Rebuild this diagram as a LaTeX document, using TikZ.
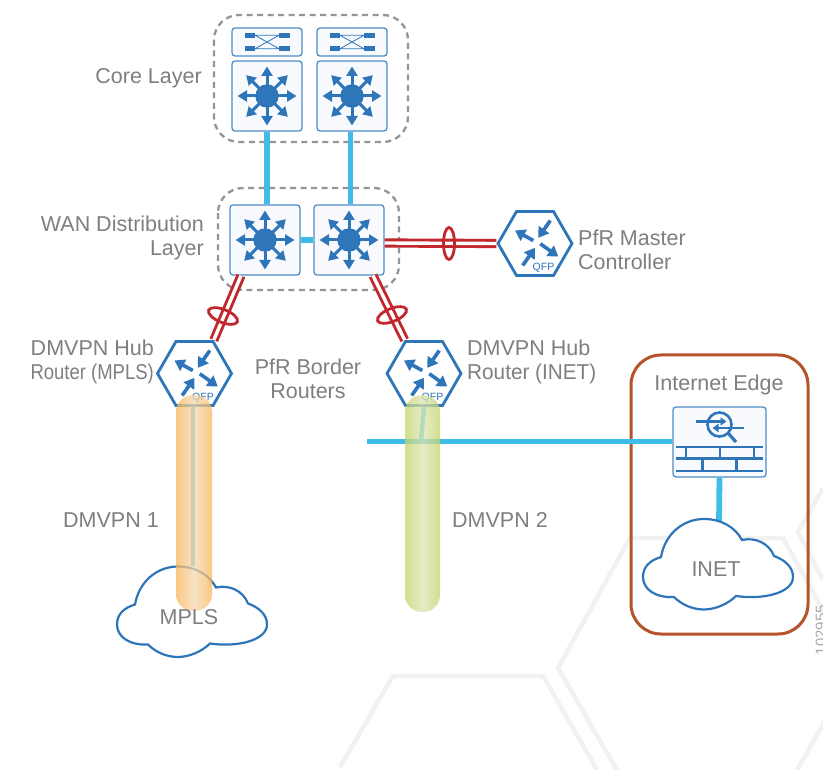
\documentclass[tikz,border=0pt]{standalone}
\usepackage{fontspec}
\setmainfont{Liberation Sans}
\usetikzlibrary{arrows.meta,shapes.geometric}
\definecolor{iconblue}{HTML}{2E75BA}
\definecolor{linkblue}{HTML}{3FBDE8}
\definecolor{linkred}{HTML}{C1272D}
\definecolor{edgebrown}{HTML}{B5532A}
\definecolor{boxfill}{HTML}{F8FAFD}
\definecolor{boxline}{HTML}{4F8CC8}
\definecolor{labelgray}{HTML}{7F7F7F}
\definecolor{dashgray}{HTML}{959595}
\definecolor{hexgray}{HTML}{F1F1F1}
\definecolor{orangeside}{HTML}{FAB65A}
\definecolor{orangemid}{HTML}{F6D9B0}
\definecolor{greenside}{HTML}{C4D468}
\definecolor{greenmid}{HTML}{DFE5B5}
\tikzset{
  devbox/.style={draw=boxline,fill=boxfill,line width=1.3,rounded corners=3,inner sep=0},
  hexrouter/.style={regular polygon,regular polygon sides=6,draw=iconblue,fill=white,
                    line width=2.8,minimum size=74,inner sep=0},
  grouplayer/.style={draw=dashgray,line width=2.3,dash pattern=on 6 off 4.5,rounded corners=25},
  bluelink/.style={draw=linkblue,line width=5.8},
  redlink/.style={draw=linkred,line width=2.9,double=white,double distance=3.4},
  redring/.style={draw=linkred,line width=2.8},
  hexline/.style={draw=hexgray,line width=4.5},
  lbl/.style={text=labelgray,font=\fontsize{21.5}{24}\selectfont,inner sep=0},
  bgrid/.style={draw=iconblue,line width=2.6},
  pics/mlsicon/.style={code={
    \fill[iconblue] (0,0) circle (11.7);
    \foreach \ang in {0,45,...,315}
      \draw[iconblue,line width=3,-{Triangle[length=9.5,width=11]}] (0,0) -- (\ang:29.5);
  }},
  pics/swicon/.style={code={
    \foreach \xs in {-1,1}
      \foreach \ys in {-1,1}
        \fill[iconblue] (\xs*12,\ys*4) rectangle (\xs*22.5,\ys*9.4);
    \draw[iconblue,line width=.8] (-12,-6.7) -- (12,-6.7) (-12,6.7) -- (12,6.7)
      (-12,-6.7) -- (12,6.7) (-12,6.7) -- (12,-6.7);
  }},
  pics/rticon/.style={code={
    \tikzset{every path/.style={draw=iconblue,line width=3.6,-{Triangle[length=10,width=12.5]}}}
    \path (-1.7,-3) -- (-20,-13);
    \path (15.3,-23) -- (3.3,-5.7);
    \path (5.3,.3) -- (23.3,13);
    \path (-12.3,22) -- (0,4.3);
    \node[text=iconblue,font=\fontsize{10.5}{12}\selectfont,inner sep=0] (qfp) at (8.5,24) {QFP};
  }},
  pics/fwicon/.style={code={
    \draw[iconblue,line width=2.6] (0,-17.5) circle (12);
    \draw[iconblue,line width=3.2] (8.5,-9) -- (16.5,0);
    \draw[iconblue,line width=2.2,-{Triangle[length=6,width=8]}] (-24,-20.5) -- (7,-20.5);
    \draw[iconblue,line width=2.2,-{Triangle[length=6,width=8]}] (24.5,-14) -- (-7,-14);
    \foreach \yy in {5,16.7,29}
      \draw[bgrid] (-44,\yy) -- (43,\yy);
    \foreach \xx in {-33.5,0.5,34.5}
      \draw[bgrid] (\xx,5) -- (\xx,16.7);
    \foreach \xx in {-17,17}
      \draw[bgrid] (\xx,16.7) -- (\xx,29);
  }},
  pics/cloudicon/.style={code={
    \draw[iconblue,line width=2.2,fill=white] (0,58) .. controls (0,47) and (8,41) .. (18,38)
      .. controls (22,15) and (40,0) .. (61,0)
      .. controls (78,0) and (92,8) .. (99,21)
      .. controls (112,18) and (126,24) .. (131,37)
      .. controls (142,41) and (150,48) .. (150,58)
      .. controls (150,74) and (120,81) .. (93,77)
      .. controls (85,85) and (72,90.5) .. (61,90.5)
      .. controls (50,90.5) and (39,86) .. (31,78)
      .. controls (12,79) and (0,70) .. (0,58) -- cycle;
  }},
}
\begin{document}
\begin{tikzpicture}[x=1pt,y=-1pt]
  \useasboundingbox (0,0) rectangle (823,770);
  \fill[white] (0,0) rectangle (823,770);

  % background hexagons
  \draw[hexline] (340,767) -- (393,676) -- (543,676) -- (597,770);
  \draw[hexline] (617,770) -- (558,668) -- (630,538) -- (783,538) -- (855,668) -- (797,770);
  \draw[hexline] (823,488) -- (798,532) -- (823,580);

  % groups
  \draw[grouplayer] (214,15) rectangle (408,142);
  \draw[grouplayer] (218,188) rectangle (399,290);
  \draw[edgebrown,line width=3,rounded corners=30] (631,355) rectangle (808,634);

  % devices
  \node[devbox,minimum width=70,minimum height=28] (sw1) at (267,42) {};
  \node[devbox,minimum width=70,minimum height=28] (sw2) at (352,42) {};
  \node[devbox,minimum width=70,minimum height=70] (core1) at (267,96) {};
  \node[devbox,minimum width=70,minimum height=70] (core2) at (352,96) {};
  \node[devbox,minimum width=70,minimum height=70] (wan1) at (265,240) {};
  \node[devbox,minimum width=70,minimum height=70] (wan2) at (349,240) {};
  \node[devbox,minimum width=93,minimum height=70] (fw) at (719.5,442) {};
  \node[hexrouter] (master) at (535,243.5) {};
  \node[hexrouter] (hub1) at (194.5,373.5) {};
  \node[hexrouter] (hub2) at (424,373.5) {};

  % clouds
  \pic at (117,566.5) {cloudicon};
  \coordinate (mplscloud) at (193,566);
  \coordinate (inetcloud) at (719,525);
  \coordinate (dmzend) at (367,441.5);
  \coordinate (dmzjoin) at (421,441.5);

  % blue links
  \draw[bluelink] (core1.south) -- (core1.south |- wan1.north);
  \draw[bluelink] ([xshift=-1.5]core2.south) -- ([xshift=-1.5]core2.south |- wan2.north);
  \draw[bluelink] (wan1.east) -- (wan2.west);
  \draw[bluelink] (fw.south) -- (inetcloud);
  \draw[bluelink] (dmzend) -- (dmzend -| fw.west);
  \draw[bluelink,line width=4.5] (hub1.south -| mplscloud) -- (mplscloud);
  \draw[bluelink,line width=4.5] (hub2.south) -- (dmzjoin);
  \pic at (643,519) {cloudicon};

  % red links
  \draw[redlink] (wan2.east) ++(0,3) -- (master.west);
  \draw[redlink] (wan1.south) ++(-24,0) -- (hub1.60);
  \draw[redlink] (wan2.south) ++(24,0) -- (hub2.120);
  \draw[redring] (449,243.5) ellipse [x radius=5.5,y radius=16];
  \draw[redring,rotate around={-22:(223,316)}] (223,316) ellipse [x radius=15.5,y radius=6.5];
  \draw[redring,rotate around={22:(392,315)}] (392,315) ellipse [x radius=15.5,y radius=6.5];

  % icons
  \pic at (sw1) {swicon};
  \pic at (sw2) {swicon};
  \pic at (core1) {mlsicon};
  \pic at (core2) {mlsicon};
  \pic at (wan1) {mlsicon};
  \pic at (wan2) {mlsicon};
  \pic at (master) {rticon};
  \pic at (hub1) {rticon};
  \pic at (hub2) {rticon};
  \pic at (fw) {fwicon};

  % tubes
  \shade[left color=orangeside,right color=orangeside,middle color=orangemid,opacity=.75,
         rounded corners=17] (176,395) rectangle (212,611);
  \shade[left color=greenside,right color=greenside,middle color=greenmid,opacity=.75,
         rounded corners=17] (405,395) rectangle (440,612);

  % labels
  \node[lbl,anchor=east] (corelbl) at (202,78.5) {Core Layer};
  \node[lbl,anchor=east,align=right] (wanlbl) at (204,237.5) {WAN Distribution\\Layer};
  \node[lbl,anchor=west,align=left] (masterlbl) at (578,249.5) {PfR Master\\Controller};
  \node[lbl,anchor=east,align=right] (hub1lbl) at (154,361.5) {DMVPN Hub\\\scalebox{.86}[1]{Router (MPLS)}};
  \node[lbl,align=center] (borderlbl) at (308,378.5) {PfR Border\\Routers};
  \node[lbl,anchor=west,align=left] (hub2lbl) at (467,361.5) {DMVPN Hub\\\scalebox{.965}[1]{Router (INET)}};
  \node[lbl] (edgelbl) at (719,385) {Internet Edge};
  \node[lbl] (inetlbl) at (716,569) {INET};
  \node[lbl] (mplslbl) at (189,617) {MPLS};
  \node[lbl,anchor=east] (dm1lbl) at (159,520) {DMVPN 1};
  \node[lbl,anchor=west] (dm2lbl) at (452,520) {DMVPN 2};
  \node[text=dashgray!80,font=\fontsize{15}{18}\selectfont,rotate=90,inner sep=0] (figlbl) at (821,630) {102955};
\end{tikzpicture}
\end{document}
